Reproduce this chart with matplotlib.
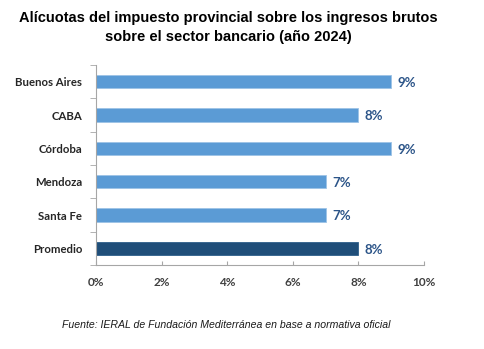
import matplotlib
matplotlib.use("Agg")
import matplotlib.pyplot as plt
from matplotlib.ticker import FixedLocator

categories = ["Buenos Aires", "CABA", "Córdoba", "Mendoza", "Santa Fe", "Promedio"]
values = [9, 8, 9, 7, 7, 8]
labels = ["9%", "8%", "9%", "7%", "7%", "8%"]
xticks = [0, 2, 4, 6, 8, 10]
xticklabels = ["0%", "2%", "4%", "6%", "8%", "10%"]

light = "#5B9BD5"
dark = "#1F4E79"
colors = [light] * 5 + [dark]

W, H = 485, 349
fig = plt.figure(figsize=(W / 100, H / 100), dpi=100)
ax = fig.add_axes([96 / W, 1 - 265 / H, (424 - 96) / W, 200 / H])

y = list(range(len(categories)))
ax.barh(y, values, height=0.4, color=colors, edgecolor=["#9DC3E6"] * 5 + ["#2E5F8A"], linewidth=0.6)
ax.set_ylim(len(categories) - 0.5, -0.5)
ax.set_xlim(0, 10)

for yi, v, lab in zip(y, values, labels):
    ax.text(v + 0.2, yi + 0.04, lab, va="center", ha="left", fontsize=9.5,
            fontweight="bold", color="#2B5488", family="Lato")

ax.set_xticks(xticks)
ax.set_xticklabels(xticklabels, fontsize=8.5, fontweight="bold", color="#404040", family="Lato")
ax.set_yticks(y)
ax.set_yticklabels(categories, fontsize=8.2, fontweight="bold", color="#262626", family="Lato")
ax.yaxis.set_major_locator(FixedLocator(y))
ax.set_yticks([i - 0.5 for i in range(len(categories) + 1)], minor=True)
ax.tick_params(axis="y", which="major", length=0, pad=10)
ax.tick_params(axis="y", which="minor", length=4, color="#A6A6A6", direction="out")
ax.tick_params(axis="x", which="major", length=3, color="#A6A6A6", direction="in", pad=9)

for s in ["top", "right"]:
    ax.spines[s].set_visible(False)
for s in ["left", "bottom"]:
    ax.spines[s].set_color("#A6A6A6")
    ax.spines[s].set_linewidth(0.8)

fig.text(228 / W, 1 - 18 / H, "Alícuotas del impuesto provincial sobre los ingresos brutos",
         ha="center", va="center", fontsize=10.5, fontweight="bold", family="Liberation Sans")
fig.text(228 / W, 1 - 37 / H, "sobre el sector bancario (año 2024)",
         ha="center", va="center", fontsize=10.5, fontweight="bold", family="Liberation Sans")
fig.text(62 / W, 1 - 325 / H, "Fuente: IERAL de Fundación Mediterránea en base a normativa oficial",
         ha="left", va="center", fontsize=7.6, style="italic", family="Liberation Sans", color="#1a1a1a")

fig.savefig("out.png", dpi=100)
